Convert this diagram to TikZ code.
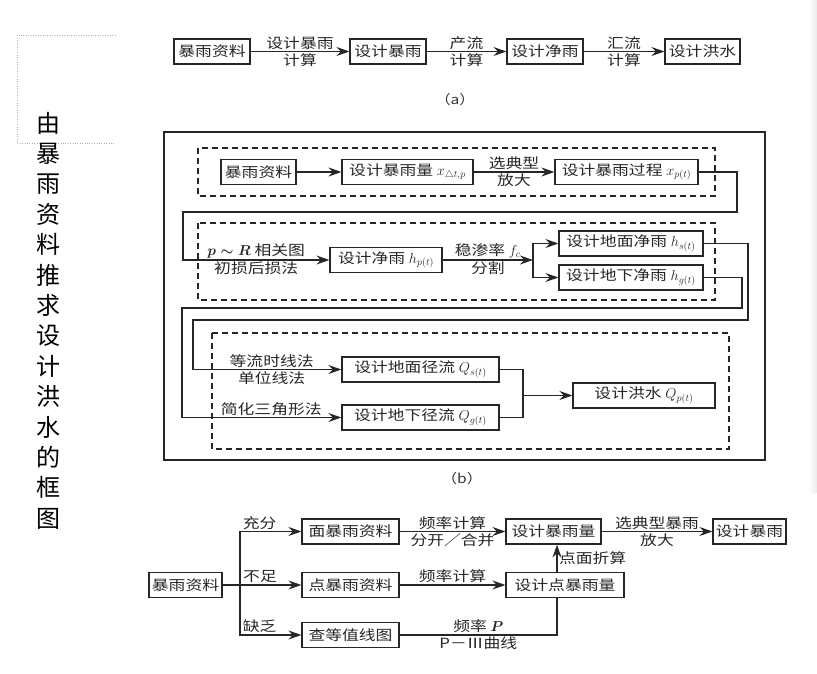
\documentclass[tikz,border=0pt]{standalone}
\usepackage{fontspec}
\newfontfamily\cjk[FakeStretch=1.2]{Noto Sans CJK SC}
\newfontfamily\cjktitle{Noto Sans CJK SC}
\usetikzlibrary{arrows.meta, positioning}

\begin{document}
\begin{tikzpicture}[x=1pt,y=-1pt,
    box/.style={draw=black!85, line width=1.2pt, minimum height=25pt,
        inner sep=2pt, font=\cjk\fontsize{14}{14}\selectfont, text=black!85},
    lbl/.style={font=\cjk\fontsize{14}{14}\selectfont, text=black!85,
        inner sep=1.5pt},
    captxt/.style={font=\cjk\fontsize{13}{13}\selectfont, text=black!80},
    arr/.style={-{Stealth[length=13pt,width=9pt,inset=4.5pt]},
        line width=1.1pt, draw=black!85},
    con/.style={line width=1.1pt, draw=black!85},
    dbox/.style={draw=black!85, line width=1.1pt, dash pattern=on 6pt off 4pt}]

    \useasboundingbox (0,0) rectangle (817,674);
    \shade[left color=white, right color=black!8] (809,0) rectangle (817,492);

    % title
    \draw[gray!60, dotted] (115,35) -- (17,35) -- (17,143) -- (115,143);
    \node[font=\cjktitle\fontsize{24}{30.4}\selectfont, align=center] (title)
        at (48,320.5) {由\\暴\\雨\\资\\料\\推\\求\\设\\计\\洪\\水\\的\\框\\图};

    % (a)
    \node[box, minimum width=76pt] (a1) at (212,51.5) {暴雨资料};
    \node[box, minimum width=76pt] (a2) at (388,51.5) {设计暴雨};
    \node[box, minimum width=76pt] (a3) at (545,51.5) {设计净雨};
    \node[box, minimum width=75pt] (a4) at (702.5,51.5) {设计洪水};
    \draw[arr] (a1) -- (a2) node[lbl, midway, above] {设计暴雨} node[lbl, midway, below] {计算};
    \draw[arr] (a2) -- (a3) node[lbl, midway, above] {产流} node[lbl, midway, below] {计算};
    \draw[arr] (a3) -- (a4) node[lbl, midway, above] {汇流} node[lbl, midway, below] {计算};
    \node[captxt] (capa) at (455,100) {（a）};

    % (b)
    \draw[line width=1.5pt, black!85] (164,132) rectangle (765,460);
    \draw[dbox] (198,148) rectangle (715,196);
    \draw[dbox] (198,223) rectangle (715,300);
    \draw[dbox] (212,333) rectangle (729,449);

    \node[box, minimum width=75pt] (b1) at (258.5,172) {暴雨资料};
    \node[box, minimum width=131pt] (b2) at (407.5,172) {设计暴雨量 $x_{\triangle t,p}$};
    \node[box, minimum width=143pt] (b3) at (626.5,172) {设计暴雨过程 $x_{p(t)}$};
    \node[box, minimum width=112pt] (b4) at (386,260) {设计净雨 $h_{p(t)}$};
    \node[box, minimum width=144pt] (b5) at (631,243.5) {设计地面净雨 $h_{s(t)}$};
    \node[box, minimum width=144pt] (b6) at (631,277.5) {设计地下净雨 $h_{g(t)}$};
    \node[box, minimum width=157pt] (b7) at (420.5,369.5) {设计地面径流 $Q_{s(t)}$};
    \node[box, minimum width=157pt] (b8) at (420.5,417.5) {设计地下径流 $Q_{g(t)}$};
    \node[box, minimum width=142pt] (b9) at (644,395.5) {设计洪水 $Q_{p(t)}$};

    \coordinate (r1) at (737,212);
    \coordinate (l1) at (183,212);
    \coordinate (sp) at (533,260);
    \coordinate (r2) at (748,320);
    \coordinate (l2) at (193,320);
    \coordinate (r3) at (742,308);
    \coordinate (l3) at (182,308);
    \coordinate (mg) at (523,395.5);

    \draw[arr] (b1) -- (b2);
    \draw[arr] (b2) -- (b3) node[lbl, midway, above] {选典型} node[lbl, midway, below] {放大};
    \draw[arr] (b3.east) -| (r1) -- (l1) |- (b4.west)
        node[lbl, pos=0.75, above] {{\boldmath$p\sim R$} 相关图}
        node[lbl, pos=0.75, below] {初损后损法};
    \draw[arr] (b4.east) -- (sp) node[lbl, midway, above] {稳渗率 $f_c$}
        node[lbl, midway, below] {分割};
    \draw[arr] (sp) |- (b5.west);
    \draw[arr] (sp) |- (b6.west);
    \draw[arr] (b5.east) -| (r2) -- (l2) |- (b7.west)
        node[lbl, pos=0.765, above] {等流时线法}
        node[lbl, pos=0.765, below] {单位线法};
    \draw[arr] (b6.east) -| (r3) -- (l3) |- (b8.west)
        node[lbl, pos=0.78, above] {简化三角形法};
    \draw[con] (b7.east) -| (mg);
    \draw[con] (b8.east) -| (mg);
    \draw[arr] (mg) -- (b9.west);
    \node[captxt] (capb) at (462,479) {（b）};

    % (c)
    \node[box, minimum width=73pt] (c1) at (185.5,585) {暴雨资料};
    \node[box, minimum width=97pt] (c2) at (350.5,531.5) {面暴雨资料};
    \node[box, minimum width=97pt] (c3) at (350.5,585) {点暴雨资料};
    \node[box, minimum width=97pt] (c4) at (350.5,635) {查等值线图};
    \node[box, minimum width=95pt] (c5) at (553.5,531.5) {设计暴雨量};
    \node[box, minimum width=118pt] (c6) at (565,585) {设计点暴雨量};
    \node[box, minimum width=73pt] (c7) at (749.5,531.5) {设计暴雨};

    \coordinate (br) at (240,585);
    \coordinate (up) at (557,600);

    \draw[arr] (c1.east) -- (c3.west) node[lbl, pos=0.475, above] {不足};
    \draw[arr] (br) |- (c2.west) node[lbl, pos=0.66, above] {充分};
    \draw[arr] (br) |- (c4.west) node[lbl, pos=0.66, above] {缺乏};
    \draw[arr] (c2) -- (c5) node[lbl, midway, above] {频率计算}
        node[lbl, midway, below] {分开／合并};
    \draw[arr] (c3) -- (c6.west) node[lbl, midway, above] {频率计算};
    \draw[arr] (c6.north -| up) -- (c5.south -| up)
        node[lbl, midway, right] {点面折算};
    \draw[con] (c4.east) -| (c6.south -| up)
        node[lbl, pos=0.25, above] {频率 {\boldmath$P$}}
        node[lbl, pos=0.25, below] {P－Ⅲ曲线};
    \draw[arr] (c5) -- (c7) node[lbl, midway, above] {选典型暴雨}
        node[lbl, midway, below] {放大};
\end{tikzpicture}
\end{document}
